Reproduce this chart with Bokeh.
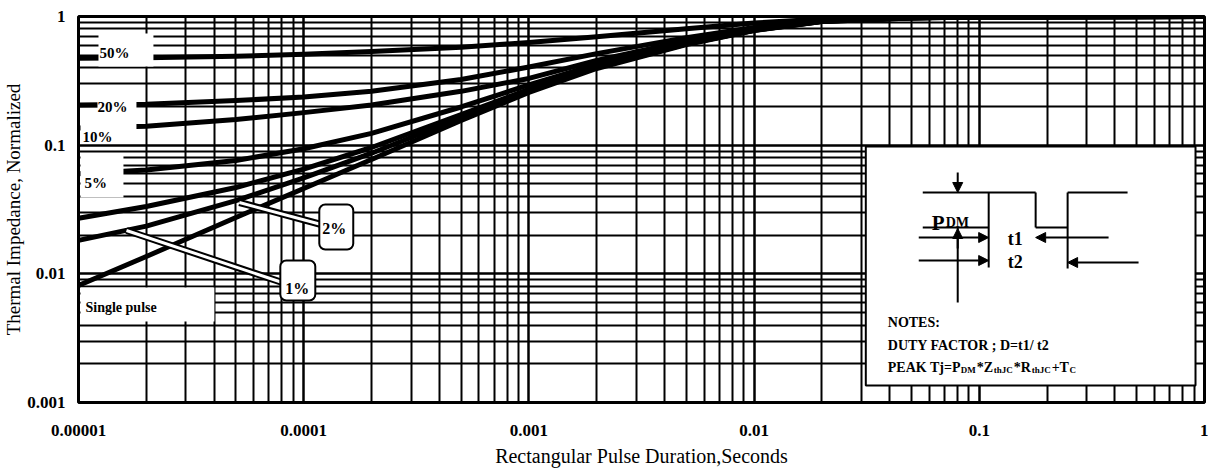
import math
from bokeh.plotting import figure
from bokeh.models import FixedTicker, Range1d, Label, Arrow, NormalHead, CustomJSTickFormatter
from bokeh.embed import file_html
from bokeh.resources import INLINE

# ---------------- data ----------------
x_major = [1e-5, 1e-4, 1e-3, 1e-2, 1e-1, 1.0]
x_labels = ["0.00001", "0.0001", "0.001", "0.01", "0.1", "1"]
y_major = [1e-3, 1e-2, 1e-1, 1.0]
y_labels = ["0.001", "0.01", "0.1", "1"]

# pulse durations (s) at which the curves were read
t_read = [1e-5, 2e-5, 5e-5, 1e-4, 2e-4, 5e-4, 1e-3, 2e-3, 5e-3, 1e-2, 2e-2, 5e-2, 0.1, 1.0]

z_50 = [0.473, 0.478, 0.490, 0.508, 0.535, 0.578, 0.628, 0.697, 0.803, 0.889, 0.957, 0.985, 0.995, 1.0]
z_20 = [0.205, 0.208, 0.222, 0.237, 0.262, 0.324, 0.405, 0.515, 0.685, 0.822, 0.932, 0.980, 0.992, 1.0]
z_10 = [0.136, 0.140, 0.158, 0.179, 0.205, 0.262, 0.330, 0.455, 0.645, 0.800, 0.923, 0.977, 0.990, 1.0]
z_5 = [0.060, 0.064, 0.076, 0.0938, 0.1235, 0.198, 0.294, 0.424, 0.626, 0.789, 0.919, 0.976, 0.990, 1.0]
z_2 = [0.027, 0.0334, 0.0469, 0.0652, 0.0959, 0.1725, 0.2716, 0.406, 0.614, 0.782, 0.917, 0.976, 0.990, 1.0]
z_1 = [0.0182, 0.0235, 0.0371, 0.0556, 0.0866, 0.164, 0.264, 0.400, 0.610, 0.780, 0.916, 0.975, 0.990, 1.0]
z_single = [0.00813, 0.01365, 0.0274, 0.0461, 0.0774, 0.1556, 0.2567, 0.3944, 0.606, 0.778, 0.915, 0.975, 0.990, 1.0]

curve_names = ["50%", "20%", "10%", "5%", "2%", "1%", "Single pulse"]

# ---------------- layout ----------------
W, H = 1208, 472
FL, FR, FT, FB = 77, 4, 16, 70          # frame borders inside the figure
X0, X1 = FL, W - FR
Y0, Y1 = FT, H - FB
DX = (X1 - X0) / 5.0
DY = (Y1 - Y0) / 3.0

def X(px):
    return 10 ** (-5 + (px - X0) / DX)

def Y(py):
    return 10 ** (-(py - Y0) / DY)

SERIF = "Liberation Serif"

p = figure(width=W, height=H, x_axis_type="log", y_axis_type="log",
           x_range=Range1d(1e-5, 1.0), y_range=Range1d(1e-3, 1.0),
           output_backend="svg", toolbar_location=None,
           min_border_left=FL, min_border_right=FR, min_border_top=FT, min_border_bottom=FB)

x_minor = [k * d for d in x_major[:-1] for k in range(2, 10)]
y_minor = [k * d for d in y_major[:-1] for k in range(2, 10)]
xt = FixedTicker(ticks=x_major, minor_ticks=x_minor)
yt = FixedTicker(ticks=y_major, minor_ticks=y_minor)
p.xaxis.ticker = xt
p.yaxis.ticker = yt
p.xgrid.ticker = xt
p.ygrid.ticker = yt

fmt_code = """
for (let i = 0; i < vals.length; i++) {
  if (Math.abs(Math.log10(vals[i]) - Math.log10(tick)) < 1e-6) return labels[i];
}
return '';
"""
p.xaxis.formatter = CustomJSTickFormatter(args=dict(vals=x_major, labels=x_labels), code=fmt_code)
p.yaxis.formatter = CustomJSTickFormatter(args=dict(vals=y_major, labels=y_labels), code=fmt_code)

for g in (p.xgrid, p.ygrid):
    g.grid_line_color = "black"
    g.grid_line_width = 2.5
    g.grid_line_alpha = 1
    g.minor_grid_line_color = "black"
    g.minor_grid_line_width = 2
    g.minor_grid_line_alpha = 1

for ax in (p.xaxis, p.yaxis):
    ax.axis_line_color = None
    ax.major_tick_line_color = None
    ax.minor_tick_line_color = None
    ax.major_label_text_font = SERIF
    ax.major_label_text_font_style = "bold"
    ax.major_label_text_font_size = "17px"
    ax.major_label_text_color = "black"
    ax.axis_label_text_font = SERIF
    ax.axis_label_text_font_style = "normal"
    ax.axis_label_text_color = "black"

p.xaxis.axis_label_text_font_size = "20px"
p.yaxis.axis_label_text_font_size = "19px"
p.xaxis.axis_label = "Rectangular Pulse Duration,Seconds"
p.yaxis.axis_label = "Thermal Impedance, Normalized"
p.xaxis.major_label_standoff = 16
p.xaxis.axis_label_standoff = 6
p.yaxis.major_label_standoff = 7
p.yaxis.axis_label_standoff = 0

p.outline_line_color = "black"
p.outline_line_width = 3
p.background_fill_color = "white"
p.border_fill_color = "white"

# ---------------- curves ----------------
for zz in (z_50, z_20, z_10, z_5, z_2, z_1, z_single):
    p.line(t_read, zz, line_color="black", line_width=5, line_join="round", line_cap="round")

def box(l, r, t, b, **kw):
    opts = dict(fill_color="white", line_color=None)
    opts.update(kw)
    p.quad(left=[X(l)], right=[X(r)], top=[Y(t)], bottom=[Y(b)], **opts)

def seg(x0, y0, x1, y1, w=2, color="black"):
    p.line([X(x0), X(x1)], [Y(y0), Y(y1)], line_color=color, line_width=w)

# label masks
box(97, 152, 33, 66)
box(96, 135, 90, 120)
box(79, 135, 118, 141)
box(79, 122, 155, 197)
box(79, 213, 287, 321)

# leaders for 2% and 1%
seg(238, 202, 320, 224, w=7)
seg(238, 202, 320, 224, w=3, color="white")
seg(125, 230, 281, 282, w=7)
seg(125, 230, 281, 282, w=3, color="white")

# callout boxes
p.quad(left=[X(318)], right=[X(352)], top=[Y(204)], bottom=[Y(249)],
       fill_color="white", line_color="black", line_width=2, border_radius=6)
p.quad(left=[X(279)], right=[X(314)], top=[Y(260)], bottom=[Y(300)],
       fill_color="white", line_color="black", line_width=2, border_radius=6)

def txt(px, py, s, size=13, style="bold", align="left", baseline="middle"):
    p.add_layout(Label(x=X(px), y=Y(py), text=s, text_font=SERIF, text_font_size=f"{size}px",
                       text_font_style=style, text_align=align, text_baseline=baseline,
                       text_color="black"))

txt(98, 52, curve_names[0], size=15)
txt(96, 106, curve_names[1], size=15)
txt(81, 136, curve_names[2], size=15)
txt(83, 182, curve_names[3], size=15)
txt(321, 228, curve_names[4], size=16)
txt(284, 288, curve_names[5], size=16)
txt(84, 307, curve_names[6], size=14)

# ---------------- inset ----------------
p.quad(left=[X(865)], right=[X(1195)], top=[Y(146)], bottom=[Y(385)],
       fill_color="white", line_color="black", line_width=2)

seg(922, 192, 1035, 192)
seg(1067, 192, 1127, 192)
seg(922, 227, 988, 227)
seg(1035, 227, 1067, 227)
seg(988, 192, 988, 267)
seg(1035, 192, 1035, 227)
seg(1067, 192, 1067, 268)
seg(957, 227, 957, 302)

def arrow(x0, y0, x1, y1):
    p.add_layout(Arrow(end=NormalHead(size=10, fill_color="black", line_color="black"),
                       x_start=X(x0), y_start=Y(y0), x_end=X(x1), y_end=Y(y1),
                       line_color="black", line_width=2))

arrow(957, 172, 957, 192)
arrow(957, 248, 957, 228)
arrow(918, 237, 988, 237)
arrow(1108, 237, 1035, 237)
arrow(918, 260, 988, 260)
arrow(1138, 262, 1067, 262)

txt(931, 222, "P", size=21, baseline="alphabetic")
txt(945, 222, "DM", size=14, baseline="alphabetic")
txt(1007, 238, "t1", size=18)
txt(1007, 261, "t2", size=18)
txt(887, 322, "NOTES:", size=14)
txt(887, 345, "DUTY FACTOR  ;  D=t1/ t2", size=14)
txt(887, 367, "PEAK Tj=P", size=14)
txt(960, 369, "DM", size=9)
txt(976, 367, "*Z", size=14)
txt(993, 369, "thJC", size=9)
txt(1013, 367, "*R", size=14)
txt(1031, 369, "thJC", size=9)
txt(1051, 367, "+T", size=14)
txt(1069, 369, "C", size=9)

open("out.html", "w").write(file_html(p, INLINE))
